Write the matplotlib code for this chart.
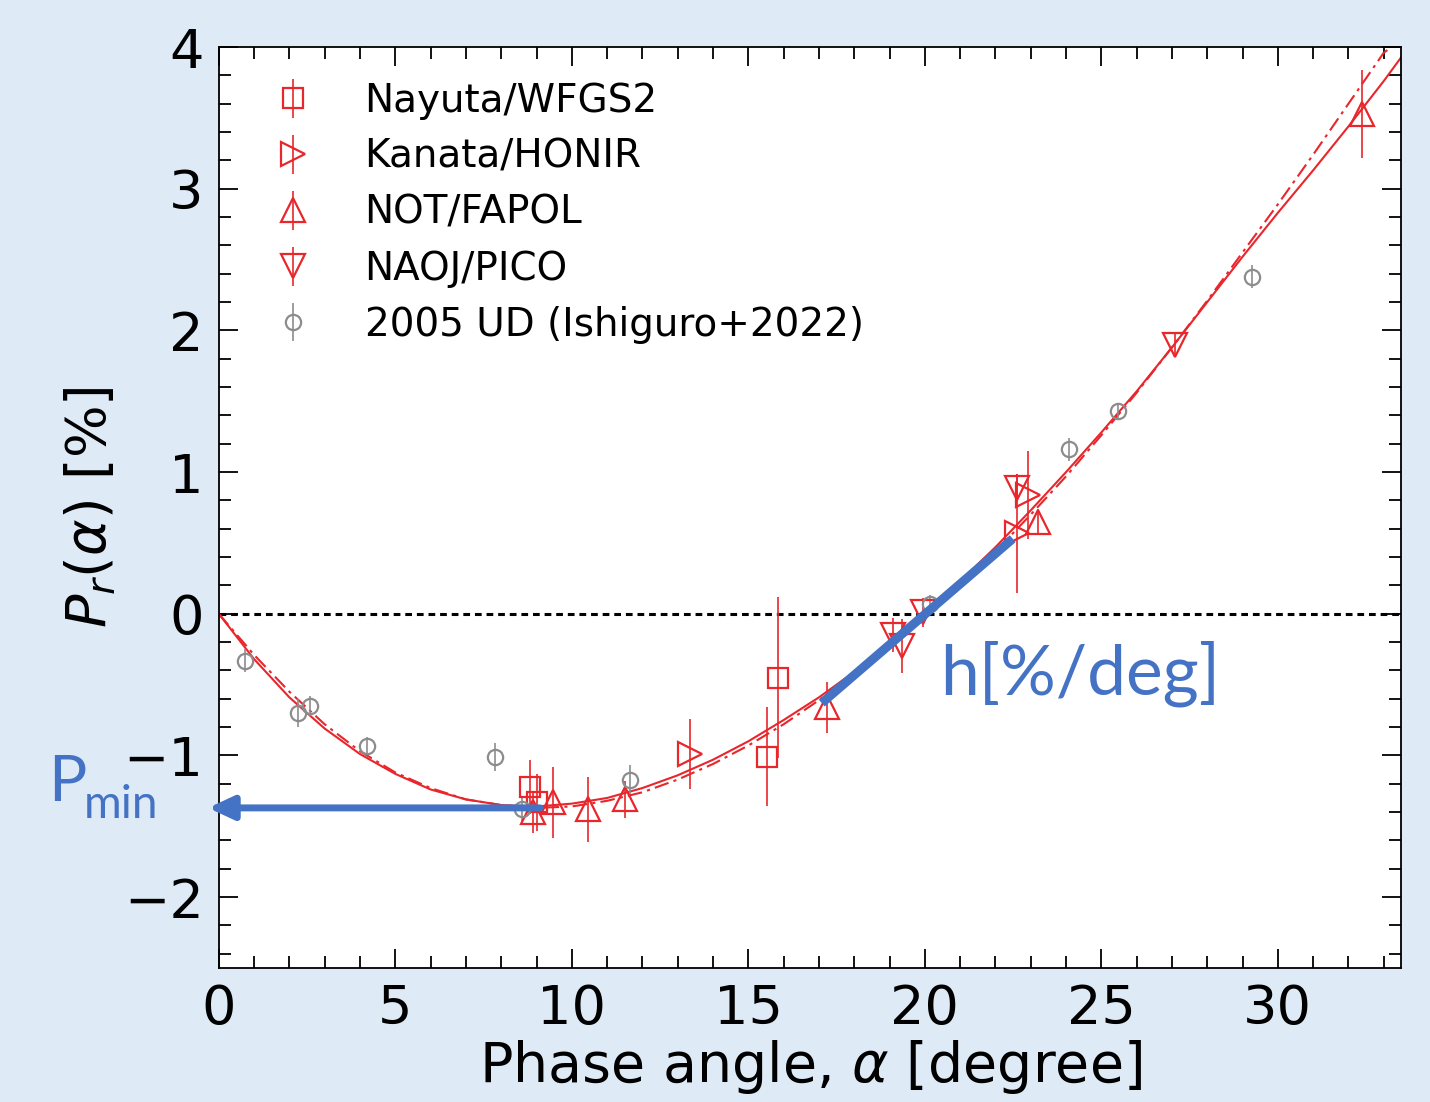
import numpy as np
import matplotlib.pyplot as plt

# model curves (phase angle in deg, polarization in %)
fit_alpha = [0, 1, 2, 3, 4, 5, 6, 7, 8, 9, 10, 11, 12, 13, 14, 15, 16, 17,
             18, 19, 20, 21, 22, 23, 24, 25, 26, 27, 28, 29, 30, 31, 32, 33, 33.5]
fit_solid = [0, -0.32, -0.59, -0.81, -0.99, -1.13, -1.24, -1.31, -1.35, -1.36,
             -1.34, -1.30, -1.23, -1.14, -1.03, -0.90, -0.75, -0.59, -0.41,
             -0.21, 0.0, 0.23, 0.47, 0.73, 1.00, 1.28, 1.57, 1.88, 2.20, 2.52,
             2.83, 3.13, 3.44, 3.76, 3.93]
fit_dashdot = [0, -0.29, -0.55, -0.78, -0.97, -1.12, -1.23, -1.31, -1.35, -1.37,
               -1.36, -1.32, -1.26, -1.17, -1.06, -0.93, -0.78, -0.61, -0.43,
               -0.23, -0.02, 0.20, 0.44, 0.70, 0.97, 1.26, 1.56, 1.88, 2.21,
               2.55, 2.89, 3.24, 3.60, 3.96, 4.05]

# observations
nayuta_a = [8.81, 9.0, 15.52, 15.84]
nayuta_p = [-1.22, -1.33, -1.01, -0.45]
nayuta_e = [0.19, 0.20, 0.35, 0.57]

kanata_a = [13.34, 22.6, 22.92]
kanata_p = [-0.99, 0.57, 0.84]
kanata_e = [0.25, 0.42, 0.31]

fapol_a = [8.9, 9.46, 10.45, 11.5, 17.22, 23.2, 32.38]
fapol_p = [-1.40, -1.33, -1.38, -1.31, -0.66, 0.65, 3.53]
fapol_e = [0.15, 0.25, 0.23, 0.13, 0.18, 0.09, 0.31]

pico_a = [19.1, 19.35, 19.95, 22.6, 27.08]
pico_p = [-0.15, -0.23, 0.01, 0.89, 1.90]
pico_e = [0.12, 0.19, 0.10, 0.10, 0.08]

ud_a = [0.74, 2.24, 2.58, 4.19, 7.82, 8.6, 11.64, 20.14, 24.08, 25.47, 29.26]
ud_p = [-0.33, -0.70, -0.65, -0.93, -1.01, -1.38, -1.17, 0.07, 1.16, 1.43, 2.38]
ud_e = [0.08, 0.10, 0.07, 0.06, 0.10, 0.08, 0.10, 0.06, 0.08, 0.06, 0.08]

# annotations
pmin_a = [9.1, -0.3]
pmin_p = [-1.37, -1.37]
slope_a = [17.08, 22.49]
slope_p = [-0.63, 0.53]

red = '#e8262b'
gray = '#8c8c8c'
blue = '#4472c4'
bg = '#deeaf6'

plt.rcParams['font.family'] = 'DejaVu Sans'
plt.rcParams['mathtext.fontset'] = 'dejavusans'

fig = plt.figure(figsize=(14.3, 11.02), dpi=100, facecolor=bg)
ax = fig.add_axes([0.153, 0.1216, 0.827, 0.8357])
ax.set_facecolor('white')

ax.axhline(0, color='black', ls=(0, (2.2, 1.6)), lw=2.2, zorder=1)
ax.plot(fit_alpha, fit_solid, color=red, lw=1.5, zorder=2)
ax.plot(fit_alpha, fit_dashdot, color=red, lw=1.5, ls=(0, (7, 2.5, 1.5, 2.5)), zorder=2)

common = dict(mfc='none', capsize=0, elinewidth=1.2, mew=1.6, ls='none', zorder=3)
ax.errorbar(nayuta_a, nayuta_p, yerr=nayuta_e, fmt='s', ms=15, mec=red,
            ecolor=red, label='Nayuta/WFGS2', **common)
ax.errorbar(kanata_a, kanata_p, yerr=kanata_e, fmt='>', ms=17, mec=red,
            ecolor=red, label='Kanata/HONIR', **common)
ax.errorbar(fapol_a, fapol_p, yerr=fapol_e, fmt='^', ms=17, mec=red,
            ecolor=red, label='NOT/FAPOL', **common)
ax.errorbar(pico_a, pico_p, yerr=pico_e, fmt='v', ms=17, mec=red,
            ecolor=red, label='NAOJ/PICO', **common)
ax.errorbar(ud_a, ud_p, yerr=ud_e, fmt='o', ms=11, mec=gray,
            ecolor=gray, label='2005 UD (Ishiguro+2022)', **common)

# h slope and Pmin arrow
ax.plot(slope_a, slope_p, color=blue, lw=6.5, solid_capstyle='butt', zorder=4)
ax.annotate('', xy=(pmin_a[1], pmin_p[1]), xytext=(pmin_a[0], pmin_p[0]),
            arrowprops=dict(arrowstyle='-|>,head_length=1.5,head_width=0.7',
                            color=blue, lw=5, shrinkA=0, shrinkB=0),
            annotation_clip=False, zorder=5)

ax.text(20.42, -0.57, 'h[%/deg]', color=blue, fontsize=50, family='Lato',
        va='baseline', ha='left')
fig.text(48 / 1430, 1 - 801 / 1102, 'P', color=blue, fontsize=46,
         family='Lato', va='baseline', ha='left')
fig.text(84 / 1430, 1 - 818 / 1102, 'min', color=blue, fontsize=33,
         family='Lato', va='baseline', ha='left')

ax.set_xlim(0, 33.5)
ax.set_ylim(-2.5, 4)
ax.set_xticks([0, 5, 10, 15, 20, 25, 30])
ax.set_yticks([-2, -1, 0, 1, 2, 3, 4])
ax.set_xticks(np.arange(0, 34, 1), minor=True)
ax.set_yticks(np.arange(-2.4, 4.01, 0.2), minor=True)
ax.tick_params(which='both', direction='in', top=True, right=True,
               labelsize=39, width=1.3, pad=11)
ax.tick_params(which='major', length=14)
ax.tick_params(which='minor', length=8.5)
for s in ax.spines.values():
    s.set_linewidth(1.3)

ax.set_xlabel(r'Phase angle, $\alpha$ [degree]', fontsize=40, labelpad=2)
ax.set_ylabel(r'$P_r(\alpha)$ [%]', fontsize=40, labelpad=4)

leg = ax.legend(loc='upper left', bbox_to_anchor=(0.0, 1.0), frameon=False,
                fontsize=28, handlelength=2.0, handletextpad=0.85,
                labelspacing=0.46, borderaxespad=0.5)

fig.savefig('out.png', dpi=100, facecolor=bg)
